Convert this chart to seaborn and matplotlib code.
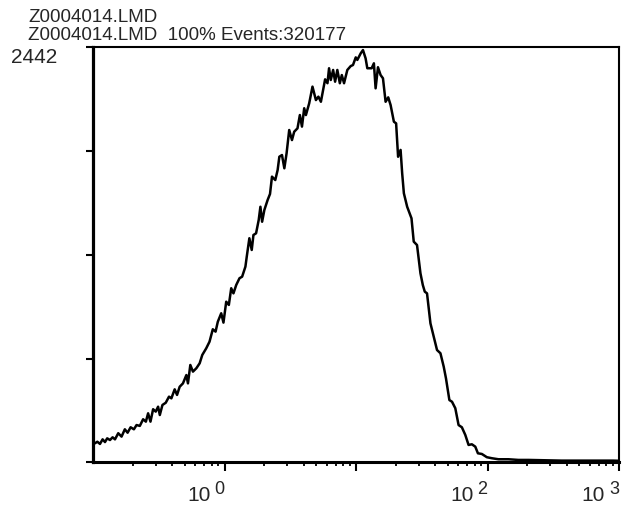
import numpy as np
import pandas as pd
import matplotlib
matplotlib.use("Agg")
import matplotlib.pyplot as plt
import matplotlib.transforms as mtransforms
from matplotlib.ticker import LogLocator, NullFormatter
import seaborn as sns

# histogram: log10 of intensity and event counts
log_fl = [-1.0, -0.985, -0.967, -0.947, -0.927, -0.909, -0.892, -0.871, -0.851, -0.833, -0.808,
          -0.783, -0.758, -0.737, -0.714, -0.689, -0.669, -0.644, -0.619, -0.598, -0.581,
          -0.563, -0.543, -0.523, -0.505, -0.492, -0.472, -0.447, -0.422, -0.404, -0.379,
          -0.361, -0.341, -0.316, -0.290, -0.278, -0.260, -0.240, -0.214, -0.189, -0.169,
          -0.139, -0.114, -0.089, -0.068, -0.051, -0.025, -0.008, 0.013, 0.033, 0.051,
          0.068, 0.089, 0.114, 0.134, 0.159, 0.169, 0.189, 0.207, 0.220, 0.240,
          0.260, 0.273, 0.286, 0.303, 0.328, 0.346, 0.361, 0.386, 0.404, 0.417,
          0.437, 0.455, 0.472, 0.492, 0.513, 0.530, 0.555, 0.573, 0.589, 0.606,
          0.619, 0.644, 0.669, 0.695, 0.714, 0.733, 0.750, 0.765, 0.783, 0.795,
          0.808, 0.826, 0.841, 0.858, 0.877, 0.892, 0.909, 0.934, 0.960, 0.977,
          0.998, 1.010, 1.036, 1.053, 1.073, 1.086, 1.119, 1.136, 1.149, 1.167,
          1.187, 1.205, 1.225, 1.245, 1.263, 1.288, 1.305, 1.320, 1.339, 1.351,
          1.364, 1.389, 1.422, 1.439, 1.464, 1.490, 1.508, 1.523, 1.540, 1.566,
          1.591, 1.616, 1.642, 1.667, 1.684, 1.710, 1.730, 1.755, 1.780, 1.805,
          1.831, 1.856, 1.881, 1.907, 1.927, 1.957, 1.995, 2.033, 2.083, 2.159,
          2.235, 2.311, 2.437, 2.563, 2.689, 2.816, 2.955, 3.0]
counts = [110, 113, 122, 109, 136, 120, 142, 132, 148, 136, 172,
          152, 195, 175, 207, 195, 220, 215, 254, 240, 289,
          240, 313, 299, 328, 279, 338, 351, 387, 377, 430,
          397, 445, 465, 514, 465, 573, 534, 554, 583, 632,
          671, 710, 783, 769, 827, 877, 822, 945, 926, 1024,
          994, 1043, 1083, 1092, 1151, 1209, 1318, 1249, 1337, 1347,
          1425, 1503, 1415, 1484, 1543, 1578, 1680, 1660, 1719, 1797,
          1807, 1729, 1817, 1954, 1895, 1944, 1964, 2042, 1974, 2082,
          2042, 2111, 2209, 2130, 2150, 2120, 2189, 2252, 2229, 2317,
          2248, 2307, 2238, 2307, 2229, 2277, 2229, 2307, 2330, 2336,
          2381, 2366, 2405, 2424, 2375, 2317, 2317, 2346, 2199, 2323,
          2277, 2258, 2120, 2146, 2101, 2003, 1993, 1797, 1837, 1700,
          1582, 1503, 1435, 1298, 1278, 1112, 1043, 1004, 994, 818,
          739, 661, 642, 563, 495, 367, 357, 319, 220, 207,
          162, 103, 107, 93, 54, 50, 31, 25, 19, 19,
          15, 15, 13, 11, 11, 11, 11, 10]

y_max = 2442
y_ticks = [0, 610.5, 1221, 1831.5, 2442]
x_major = [1, 10, 100, 1000]
x_labels = {1: "0", 100: "2", 1000: "3"}
file_name = "Z0004014.LMD"
events = 320177

df = pd.DataFrame({"fl": 10 ** np.array(log_fl), "count": counts})

sns.set_style("white")
plt.rcParams["font.family"] = ["Liberation Sans", "DejaVu Sans"]

fig = plt.figure(figsize=(6.31, 5.08), dpi=100)
ax = fig.add_axes([0.1474, 0.0896, 0.8336, 0.8179])

sns.lineplot(data=df, x="fl", y="count", ax=ax, color="black", lw=1.8, estimator=None)
ax.set_xscale("log")
ax.set_xlim(0.1, 1000)
ax.set_ylim(0, y_max)
ax.set_xlabel("")
ax.set_ylabel("")

for side, lw in [("left", 2.3), ("bottom", 2.2), ("top", 1.5), ("right", 1.5)]:
    ax.spines[side].set_visible(True)
    ax.spines[side].set_linewidth(lw)
    ax.spines[side].set_color("black")

ax.set_yticks(y_ticks)
ax.set_yticklabels([])
ax.tick_params(axis="y", which="major", direction="out", length=5, width=1.5,
               left=True, color="black")

ax.set_xticks(x_major)
ax.xaxis.set_minor_locator(LogLocator(base=10, subs=np.arange(2, 10)))
ax.xaxis.set_minor_formatter(NullFormatter())
ax.set_xticklabels([])
ax.tick_params(axis="x", which="major", direction="out", length=6.5, width=1.5,
               bottom=True, color="black")
ax.tick_params(axis="x", which="minor", direction="out", length=3, width=1.3,
               bottom=True, color="black")

# tick labels written as 10 with raised exponent
base_tr = mtransforms.offset_copy(ax.get_xaxis_transform(), fig=fig, x=-14, y=-39, units="dots")
exp_tr = mtransforms.offset_copy(ax.get_xaxis_transform(), fig=fig, x=-10, y=-32, units="dots")
for xv, ex in x_labels.items():
    ax.text(xv, 0, "10", transform=base_tr, ha="right", va="baseline", fontsize=15, clip_on=False)
    ax.text(xv, 0, ex, transform=exp_tr, ha="left", va="baseline", fontsize=13, clip_on=False)

fig.text(57 / 631, 1 - 63 / 508, str(y_max), ha="right", va="baseline", fontsize=15)
fig.text(28 / 631, 1 - 22.5 / 508, file_name, ha="left", va="baseline", fontsize=13.5)
fig.text(28 / 631, 1 - 40 / 508, f"{file_name}  100% Events:{events}", ha="left",
         va="baseline", fontsize=13.5)

fig.savefig("out.png", dpi=100, facecolor="white")
